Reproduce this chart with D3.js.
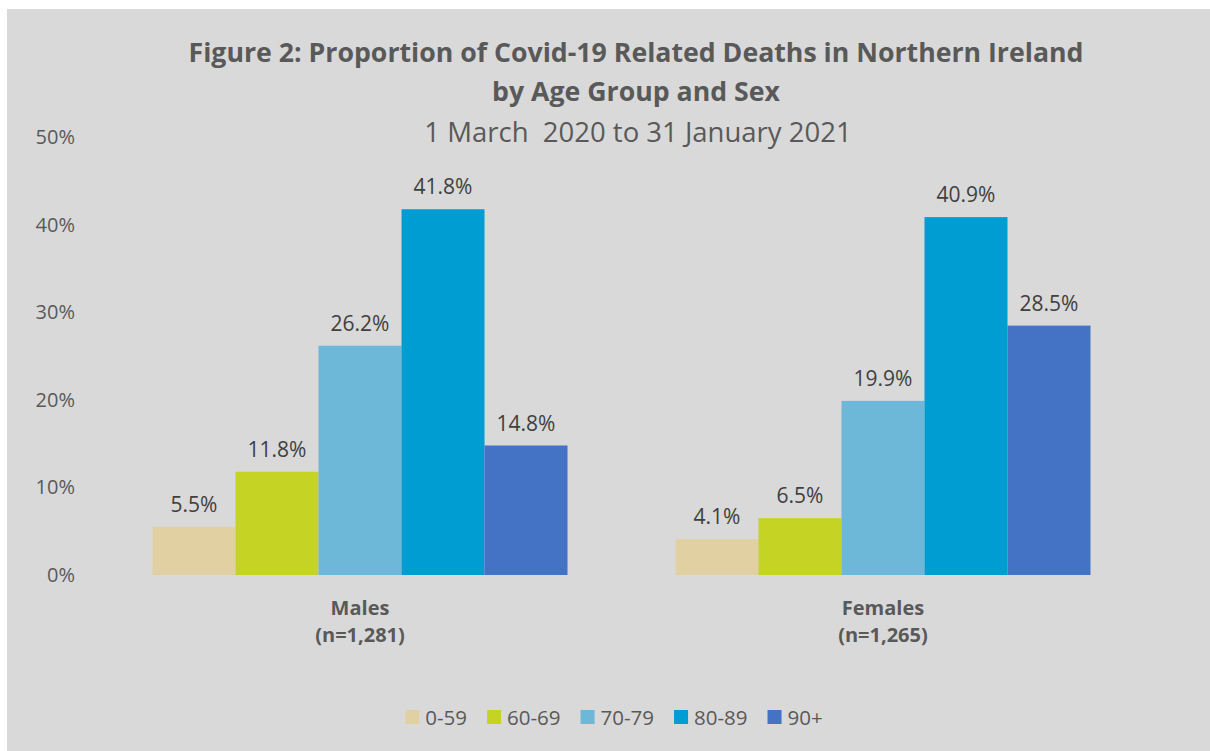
<!DOCTYPE html>
<html>
<head>
<meta charset="utf-8">
<script src="https://cdn.jsdelivr.net/npm/d3@7"></script>
<style>
  body { margin: 0; background: #fff; }
  text { font-family: "Open Sans", sans-serif; }
</style>
</head>
<body>
<div id="chart"></div>
<script>
// data
const groups = ["Males", "Females"];
const groupNotes = ["(n=1,281)", "(n=1,265)"];
const ageGroups = ["0-59", "60-69", "70-79", "80-89", "90+"];
const males = [5.5, 11.8, 26.2, 41.8, 14.8];
const females = [4.1, 6.5, 19.9, 40.9, 28.5];
const yTicks = [0, 10, 20, 30, 40, 50];
const colours = ["#e1d1a2", "#c5d325", "#6db8d8", "#009dd3", "#4472c4"];

const W = 1210, H = 751;
const svg = d3.select("#chart").append("svg")
  .attr("width", W)
  .attr("height", H);

// grey chart area
svg.append("rect")
  .attr("x", 7).attr("y", 9)
  .attr("width", W - 7).attr("height", H - 9)
  .attr("fill", "#d9d9d9");

// titles
svg.append("text")
  .attr("x", 636).attr("y", 62)
  .attr("text-anchor", "middle")
  .style("font-size", "26.7px").style("font-weight", "bold")
  .attr("fill", "#595959")
  .text("Figure 2: Proportion of Covid-19 Related Deaths in Northern Ireland");
svg.append("text")
  .attr("x", 636).attr("y", 101)
  .attr("text-anchor", "middle")
  .style("font-size", "26.7px").style("font-weight", "bold")
  .attr("fill", "#595959")
  .text("by Age Group and Sex");
svg.append("text")
  .attr("x", 638).attr("y", 142)
  .attr("text-anchor", "middle")
  .style("font-size", "27.5px")
  .attr("fill", "#595959")
  .style("white-space", "pre")
  .text("1 March  2020 to 31 January 2021");

// scales
let y = d3.scaleLinear()
  .domain([0, 50])
  .range([575, 137.5]);

let x0 = d3.scaleBand()
  .domain(groups)
  .range([98.5, 1144.5])
  .paddingInner(0.2065)
  .paddingOuter(0.1033);

let x1 = d3.scaleBand()
  .domain(ageGroups)
  .range([0, x0.bandwidth()]);

// y axis, labels only
let yAxis = d3.axisLeft(y)
  .tickValues(yTicks)
  .tickFormat(d => d + "%")
  .tickSize(0)
  .tickPadding(0);
let yG = svg.append("g")
  .attr("transform", "translate(75,0)")
  .call(yAxis);
yG.select(".domain").remove();
yG.selectAll("text")
  .attr("fill", "#595959")
  .style("font-size", "20px")
  .style("font-family", "Open Sans, sans-serif");

// bars
const series = [males, females];
let gBars = svg.append("g")
  .selectAll("g")
  .data(groups)
  .enter()
  .append("g")
    .attr("transform", d => "translate(" + x0(d) + ",0)");

gBars.selectAll("rect")
  .data((g, i) => ageGroups.map((a, j) => ({age: a, value: series[i][j], c: colours[j]})))
  .enter()
  .append("rect")
    .attr("x", d => x1(d.age))
    .attr("y", d => y(d.value))
    .attr("width", x1.bandwidth())
    .attr("height", d => y(0) - y(d.value))
    .attr("fill", d => d.c);

gBars.selectAll("text.val")
  .data((g, i) => ageGroups.map((a, j) => ({age: a, value: series[i][j]})))
  .enter()
  .append("text")
    .attr("class", "val")
    .attr("x", d => x1(d.age) + x1.bandwidth() / 2)
    .attr("y", d => y(d.value) - 15)
    .attr("text-anchor", "middle")
    .attr("fill", "#404040")
    .style("font-size", "21px")
    .text(d => d.value.toFixed(1) + "%");

// category labels
groups.forEach((g, i) => {
  let cx = x0(g) + x0.bandwidth() / 2;
  svg.append("text")
    .attr("x", cx).attr("y", 615)
    .attr("text-anchor", "middle")
    .attr("fill", "#595959")
    .style("font-size", "20px").style("font-weight", "bold")
    .text(g);
  svg.append("text")
    .attr("x", cx).attr("y", 642)
    .attr("text-anchor", "middle")
    .attr("fill", "#595959")
    .style("font-size", "20px").style("font-weight", "bold")
    .text(groupNotes[i]);
});

// legend
let legend = svg.append("g");
let lx = 0;
ageGroups.forEach((a, j) => {
  let item = legend.append("g").attr("transform", "translate(" + lx + ",0)");
  item.append("rect")
    .attr("x", 0).attr("y", -7)
    .attr("width", 14).attr("height", 14)
    .attr("fill", colours[j]);
  let t = item.append("text")
    .attr("x", 20).attr("y", 7.5)
    .attr("fill", "#595959")
    .style("font-size", "20.5px")
    .text(a);
  lx += 20 + t.node().getComputedTextLength() + 20;
});
let legendW = lx - 20;
legend.attr("transform", "translate(" + (614 - legendW / 2) + ",717)");
</script>
</body>
</html>
